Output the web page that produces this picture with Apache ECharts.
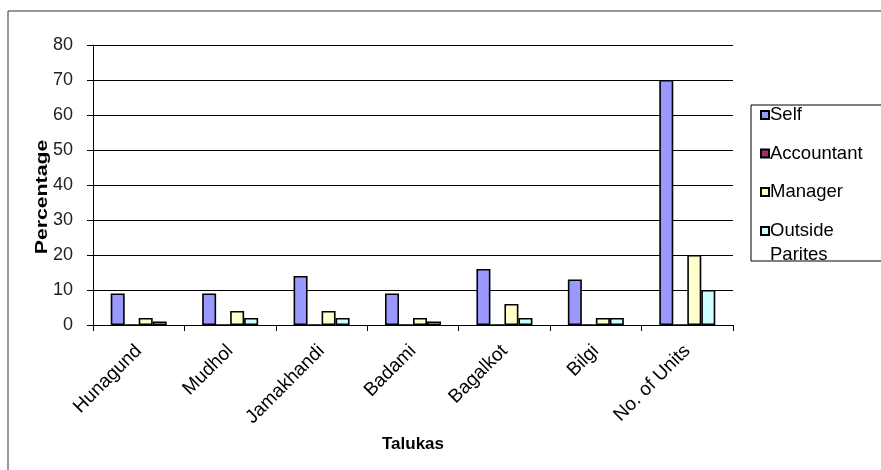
<!DOCTYPE html>
<html>
<head>
<meta charset="utf-8">
<script src="https://cdn.jsdelivr.net/npm/echarts@6/dist/echarts.min.js"></script>
<style>
html, body { margin: 0; padding: 0; background: #fff; }
#chart { width: 881px; height: 470px; }
</style>
</head>
<body>
<div id="chart"></div>
<script>
// Talukas and respondent shares (%) by who keeps the accounts
const talukas = ['Hunagund', 'Mudhol', 'Jamakhandi', 'Badami', 'Bagalkot', 'Bilgi', 'No. of Units'];
const selfValues = [9, 9, 14, 9, 16, 13, 70];
const accountantValues = [0, 0, 0, 0, 0, 0, 0];
const managerValues = [2, 4, 4, 2, 6, 2, 20];
const outsideValues = [1, 2, 2, 1, 2, 2, 10];
const yTicks = [0, 10, 20, 30, 40, 50, 60, 70, 80];

const font = '"Liberation Sans", Arial, sans-serif';

function barSeries(name, data, color) {
  return {
    name: name,
    type: 'bar',
    data: data,
    barWidth: 14,
    barGap: '0%',
    itemStyle: { color: color, borderColor: '#000', borderWidth: 1.6 }
  };
}

const legendBase = {
  orient: 'vertical',
  left: 760,
  padding: 0,
  itemWidth: 8,
  itemHeight: 8,
  itemGap: 14.5,
  icon: 'rect',
  z: 5,
  textStyle: { fontFamily: font, fontSize: 18.5, color: '#000', padding: [0, 0, 0, -4], lineHeight: 24 }
};

const chart = echarts.init(document.getElementById('chart'), null, { renderer: 'canvas' });
chart.setOption({
  animation: false,
  backgroundColor: '#fff',
  grid: { left: 93, right: 148, top: 45, bottom: 145 },
  graphic: [
    // outer chart frame
    { type: 'rect', shape: { x: 8, y: 11, width: 900, height: 500 },
      style: { fill: 'none', stroke: '#333', lineWidth: 1 } },
    // legend box
    { type: 'rect', shape: { x: 751, y: 105, width: 140, height: 156 },
      style: { fill: '#fff', stroke: '#000', lineWidth: 1 }, z: 0 },
    // vertical axis title
    { type: 'text', x: 42, y: 197, rotation: Math.PI / 2, scaleX: 1.25, z: 10,
      style: { text: 'Percentage', fontFamily: font, fontSize: 17, fontWeight: 'bold',
               fill: '#000', align: 'center', verticalAlign: 'middle' } }
  ],
  legend: [
    Object.assign({}, legendBase, {
      top: 103,
      data: ['Self', 'Accountant', 'Manager']
    }),
    // two-line entry: a blank leading line keeps "Outside" level with its swatch
    Object.assign({}, legendBase, {
      top: 195,
      formatter: function () { return ' \nOutside\nParites'; },
      data: ['Outside Parites']
    })
  ],
  xAxis: {
    type: 'category',
    data: talukas,
    name: 'Talukas',
    nameLocation: 'middle',
    nameGap: 111,
    nameTextStyle: { fontFamily: font, fontSize: 17, fontWeight: 'bold', color: '#000' },
    axisLine: { show: true, lineStyle: { color: '#000', width: 1 } },
    axisTick: { show: true, alignWithLabel: false, length: 6, lineStyle: { color: '#000' } },
    axisLabel: { rotate: 45, fontFamily: font, fontSize: 19, color: '#000', margin: 23, interval: 0 }
  },
  yAxis: {
    type: 'value',
    min: 0,
    max: 80,
    interval: 10,
    axisLine: { show: true, lineStyle: { color: '#000', width: 1 } },
    axisTick: { show: true, inside: false, length: 6, lineStyle: { color: '#000' } },
    splitLine: { show: true, lineStyle: { color: '#000', width: 1 } },
    axisLabel: {
      fontFamily: font, fontSize: 18, color: '#222', margin: 20,
      formatter: function (v) { return yTicks.indexOf(v) >= 0 ? String(v) : ''; }
    }
  },
  series: [
    barSeries('Self', selfValues, '#9999FF'),
    barSeries('Accountant', accountantValues, '#993366'),
    barSeries('Manager', managerValues, '#FFFFCC'),
    barSeries('Outside Parites', outsideValues, '#CCFFFF')
  ]
});
</script>
</body>
</html>
